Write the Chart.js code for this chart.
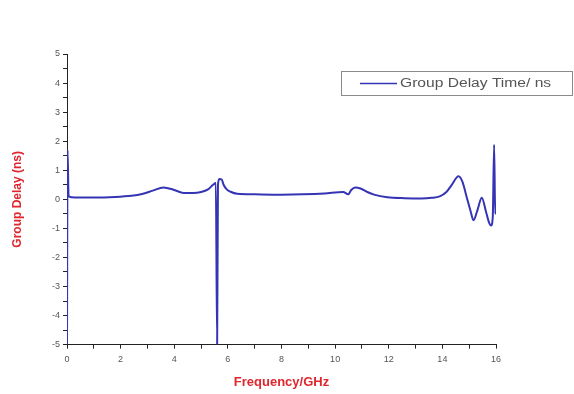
<!DOCTYPE html>
<html>
<head>
<meta charset="utf-8">
<script src="https://cdn.jsdelivr.net/npm/chart.js@4"></script>
<style>
  html, body { margin: 0; padding: 0; background: #fff; }
  #wrap { width: 574px; height: 394px; }
</style>
</head>
<body>
<div id="wrap"><canvas id="delayChart" width="574" height="394"></canvas></div>
<script>
// frequency (GHz) and group delay (ns)
const freq = [0, 0.02, 0.06, 0.3, 1.0, 1.8, 2.4, 2.8, 3.2, 3.6, 4.0, 4.35, 4.7, 5.0, 5.26, 5.45, 5.55, 5.6, 5.63, 5.68, 5.77, 5.84, 5.95, 6.1, 6.35, 7.0, 8.0, 8.8, 9.6, 10.3, 10.49, 10.6, 10.75, 10.95, 11.2, 11.45, 11.95, 12.6, 13.2, 13.6, 13.9, 14.15, 14.35, 14.6, 14.75, 14.9, 15.05, 15.16, 15.3, 15.47, 15.62, 15.74, 15.82, 15.88, 15.93, 15.97, 16.0];
const delay = [-5, 1.7, 0.1, 0.06, 0.06, 0.08, 0.12, 0.18, 0.3, 0.41, 0.32, 0.22, 0.22, 0.25, 0.34, 0.5, 0.56, -5, 0.5, 0.7, 0.68, 0.5, 0.35, 0.26, 0.19, 0.17, 0.16, 0.17, 0.2, 0.25, 0.17, 0.32, 0.41, 0.37, 0.25, 0.16, 0.07, 0.04, 0.03, 0.05, 0.1, 0.25, 0.5, 0.79, 0.6, 0.1, -0.4, -0.72, -0.4, 0.05, -0.4, -0.8, -0.9, -0.6, 1.88, -0.5, -0.1];
const seriesLabel = 'Group Delay Time/ ns';
const xTitle = 'Frequency/GHz';
const yTitle = 'Group Delay (ns)';

const axisFont = { family: 'Liberation Sans, Arial, sans-serif', size: 9 };

// legend box drawn in the top right of the plot, like the original
const boxLegend = {
  id: 'boxLegend',
  afterDraw(chart) {
    const ctx = chart.ctx;
    const ds = chart.data.datasets[0];
    const x = 341, y = 71, w = 231, h = 24;
    ctx.save();
    ctx.strokeStyle = '#8a8a8a';
    ctx.lineWidth = 1;
    ctx.strokeRect(x + 0.5, y + 0.5, w, h);
    ctx.strokeStyle = ds.borderColor;
    ctx.lineWidth = 1.5;
    ctx.beginPath();
    ctx.moveTo(x + 19, y + 12.5);
    ctx.lineTo(x + 56, y + 12.5);
    ctx.stroke();
    ctx.fillStyle = '#555';
    ctx.font = '12px Liberation Sans, Arial, sans-serif';
    ctx.textBaseline = 'middle';
    // the original text is a little stretched sideways
    ctx.translate(x + 59, y + 13);
    ctx.scale(1.3, 1);
    ctx.fillText(ds.label, 0, 0);
    ctx.restore();
  }
};

new Chart(document.getElementById('delayChart'), {
  type: 'line',
  data: {
    datasets: [{
      label: seriesLabel,
      data: freq.map((f, i) => ({ x: f, y: delay[i] })),
      borderColor: '#3434b4',
      borderWidth: 2,
      pointRadius: 0,
      cubicInterpolationMode: 'monotone',
      fill: false
    }]
  },
  options: {
    responsive: false,
    animation: false,
    layout: { padding: { top: 54, right: 78, bottom: 4, left: 10 } },
    plugins: { legend: { display: false }, tooltip: { enabled: false } },
    scales: {
      x: {
        type: 'linear',
        min: 0, max: 16,
        grid: { drawOnChartArea: false, tickLength: 4, tickColor: '#222' },
        border: { color: '#222', width: 1 },
        ticks: {
          stepSize: 1, autoSkip: false, maxRotation: 0, color: '#555', font: axisFont, padding: 6,
          callback: v => (v % 2 === 0 ? String(v) : '')
        },
        title: { display: true, text: xTitle, color: '#e0262e', font: { family: 'Liberation Sans, Arial, sans-serif', size: 13, weight: 'bold' }, padding: { top: 3, bottom: 0 } }
      },
      y: {
        min: -5, max: 5,
        afterFit: s => { s.width = 57; },
        grid: { drawOnChartArea: false, tickLength: 4, tickColor: '#222' },
        border: { color: '#222', width: 1 },
        ticks: {
          stepSize: 0.5, autoSkip: false, color: '#555', font: axisFont, padding: 3,
          callback: v => (Number.isInteger(v) ? String(v) : '')
        },
        title: { display: true, text: yTitle, color: '#e0262e', font: { family: 'Liberation Sans, Arial, sans-serif', size: 12, weight: 'bold' }, padding: { top: 0, bottom: 20 } }
      }
    }
  },
  plugins: [boxLegend]
});
</script>
</body>
</html>
